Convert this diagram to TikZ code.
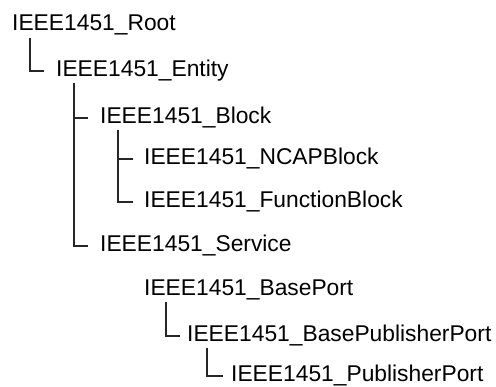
\documentclass[tikz,border=0pt]{standalone}
\usepackage{fontspec}
\setmainfont{Liberation Sans}
\begin{document}
\begin{tikzpicture}[x=1pt,y=-1pt,
  lbl/.style={anchor=base west,inner sep=0pt,font=\fontsize{22.8}{26}\selectfont},
  tree/.style={line width=1.3pt,black!85}]
\useasboundingbox (0,0) rectangle (496,387);
\node[lbl] (root) at (12,31) {IEEE1451\_Root};
\node[lbl] (entity) at (56,77) {IEEE1451\_Entity};
\node[lbl] (block) at (100,124) {IEEE1451\_Block};
\node[lbl] (ncap) at (144,165) {IEEE1451\_NCAPBlock};
\node[lbl] (func) at (144,208) {IEEE1451\_FunctionBlock};
\node[lbl] (service) at (100,252) {IEEE1451\_Service};
\node[lbl] (baseport) at (144,296) {IEEE1451\_BasePort};
\node[lbl] (basepub) at (187,342) {IEEE1451\_BasePublisherPort};
\node[lbl] (pub) at (231,382) {IEEE1451\_PublisherPort};
% connectors
\coordinate (rootv) at ([xshift=18pt,yshift=-7pt]root.base west);
\draw[tree] (rootv) |- ([xshift=-12pt]entity.west);
\coordinate (entv) at ([xshift=18pt,yshift=-6pt]entity.base west);
\draw[tree] (entv) |- ([xshift=-12pt]service.west);
\draw[tree] (entv |- block.west) -- ([xshift=-12pt]block.west);
\coordinate (blkv) at ([xshift=18pt,yshift=-6pt]block.base west);
\draw[tree] (blkv) |- ([xshift=-11pt]func.west);
\draw[tree] (blkv |- ncap.west) -- ([xshift=-11pt]ncap.west);
\coordinate (bpv) at ([xshift=22pt,yshift=-6pt]baseport.base west);
\draw[tree] (bpv) |- ([xshift=-7pt]basepub.west);
\coordinate (bppv) at ([xshift=20pt,yshift=-6pt]basepub.base west);
\draw[tree] (bppv) |- ([xshift=-8pt]pub.west);
\end{tikzpicture}
\end{document}
